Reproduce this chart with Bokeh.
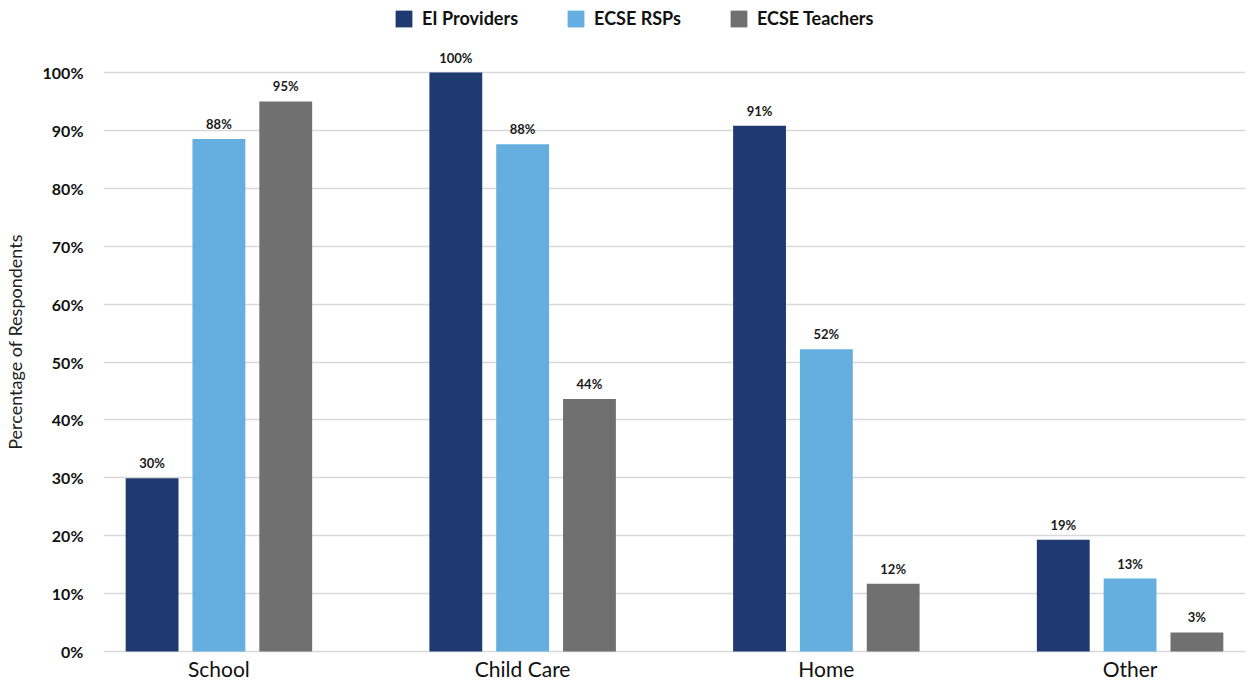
from bokeh.plotting import figure
from bokeh.models import ColumnDataSource, FactorRange, FixedTicker, Legend, LegendItem, LabelSet
from bokeh.transform import dodge
from bokeh.core.properties import value
from bokeh.embed import file_html
from bokeh.resources import INLINE

categories = ["School", "Child Care", "Home", "Other"]
series_names = ["EI Providers", "ECSE RSPs", "ECSE Teachers"]
ei_providers = [29.9, 100.0, 90.8, 19.3]
ecse_rsps = [88.5, 87.6, 52.2, 12.6]
ecse_teachers = [95.0, 43.6, 11.7, 3.3]
y_ticks = [0, 10, 20, 30, 40, 50, 60, 70, 80, 90, 100]

colors = ["#1f3a70", "#64aee0", "#707070"]
FONT = "Lato"

src = ColumnDataSource(data=dict(
    cat=categories,
    base=[0] * len(categories),
    ei=ei_providers,
    rsp=ecse_rsps,
    tch=ecse_teachers,
    ei_l=[f"{round(v)}%" for v in ei_providers],
    rsp_l=[f"{round(v)}%" for v in ecse_rsps],
    tch_l=[f"{round(v)}%" for v in ecse_teachers],
))

xr = FactorRange(factors=categories, range_padding=-0.12, range_padding_units="absolute")

p = figure(x_range=xr, y_range=(-5.53, 112.44), width=1248, height=683,
           output_backend="svg", toolbar_location=None, x_axis_location=None,
           min_border_left=101, min_border_right=3, min_border_top=0, min_border_bottom=0)
p.outline_line_color = None
p.background_fill_color = "white"
p.border_fill_color = "white"

bw = 0.174
off = 0.22
keys = ["ei", "rsp", "tch"]
renderers = []
for i, (k, c) in enumerate(zip(keys, colors)):
    r = p.vbar(x=dodge("cat", (i - 1) * off, range=p.x_range), top=k, bottom="base", width=bw,
               source=src, fill_color=c, line_color=None)
    renderers.append(r)
    lbl = LabelSet(x=dodge("cat", (i - 1) * off, range=p.x_range), y=k, text=k + "_l",
                   source=src, text_align="center", text_baseline="bottom", y_offset=7,
                   text_font=value(FONT), text_font_style="bold", text_font_size="13px",
                   text_color="#1a1a1a")
    p.add_layout(lbl)

# category labels under the baseline
cat_lbl = LabelSet(x="cat", y="base", text="cat", source=src, text_align="center",
                   text_baseline="top", y_offset=-5, text_font=value(FONT),
                   text_font_size="21px", text_color="#111111")
p.add_layout(cat_lbl)

p.yaxis.ticker = FixedTicker(ticks=y_ticks)
p.yaxis.major_label_overrides = {t: f"{t}%" for t in y_ticks}
p.yaxis.major_label_text_font = FONT
p.yaxis.major_label_text_font_style = "bold"
p.yaxis.major_label_text_font_size = "16px"
p.yaxis.major_label_text_color = "#111111"
p.yaxis.major_label_standoff = 14
p.yaxis.axis_line_color = None
p.yaxis.major_tick_line_color = None
p.yaxis.minor_tick_line_color = None
p.yaxis.axis_label = "Percentage of Respondents"
p.yaxis.axis_label_text_font = FONT
p.yaxis.axis_label_text_font_style = "normal"
p.yaxis.axis_label_text_font_size = "18px"
p.yaxis.axis_label_text_color = "#222222"
p.yaxis.axis_label_standoff = 14

p.xgrid.grid_line_color = None
p.ygrid.grid_line_color = "#d9d9d9"
p.ygrid.grid_line_width = 1.5

legend = Legend(items=[LegendItem(label=n, renderers=[r]) for n, r in zip(series_names, renderers)],
                orientation="horizontal", location=(290, 654),
                glyph_width=21, glyph_height=21, label_standoff=8, spacing=47,
                padding=0, margin=0, border_line_color=None, background_fill_alpha=0,
                label_text_font=FONT, label_text_font_style="bold", label_text_font_size="18px",
                label_text_color="#111111", label_height=21)
p.add_layout(legend)

open("out.html", "w").write(file_html(p, INLINE))
